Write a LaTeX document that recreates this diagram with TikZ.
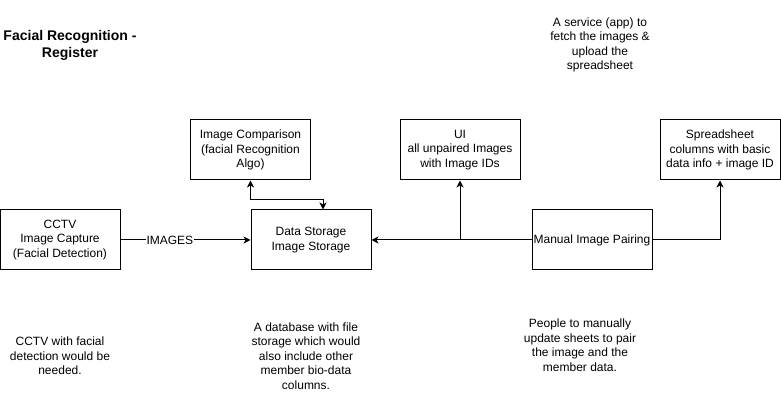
\documentclass[tikz,border=0pt]{standalone}
\usepackage{fontspec}
\setmainfont{Liberation Sans}
\usetikzlibrary{arrows.meta,positioning}

\begin{document}
\begin{tikzpicture}[
    x=1pt, y=1pt,
    every node/.style={font=\fontsize{12pt}{14.5pt}\selectfont},
    block/.style={rectangle, draw=black, line width=1pt, minimum width=120pt, minimum height=60pt, align=center, inner sep=0pt},
    note/.style={align=center, inner sep=0pt},
    arrow/.style={->, >={Stealth[length=7pt, width=7pt, inset=2pt]}, line width=1pt}
]
    \useasboundingbox (0,0) rectangle (781,401);

    % Title and notes
    \node[note, font=\bfseries\fontsize{14pt}{17pt}\selectfont] (title) at (70,356) {Facial Recognition -\\Register};
    \node[note] (servicenote) at (600,356) {A service (app) to\\fetch the images \&\\upload the\\spreadsheet};

    % Main row
    \node[block] (cctv) at (60,161) {CCTV\\Image Capture\\(Facial Detection)};
    \node[block, right=130pt of cctv] (store) {Data Storage\\Image Storage};
    \node[block, right=160pt of store] (pair) {Manual Image Pairing};

    % Top row
    \node[block] (compare) at (250.5,251) {Image Comparison\\(facial Recognition\\Algo)};
    \node[block] (ui) at (460,251) {UI\\all unpaired Images\\with Image IDs};
    \node[block] (sheet) at (720,251) {Spreadsheet\\columns with basic\\data info + image ID};

    % Notes below
    \node[note] (cctvnote) at (60,45) {CCTV with facial\\detection would be\\needed.};
    \node[note] (storenote) at (306,45) {A database with file\\storage which would\\also include other\\member bio-data\\columns.};
    \node[note] (pairnote) at (580,56) {People to manually\\update sheets to pair\\the image and the\\member data.};

    % Connectors
    \draw[arrow] (cctv) -- node[pos=0.38, fill=white, inner sep=1pt] {IMAGES} (store);
    \draw[arrow, <->] (compare.south) -- ++(0,-19) -| ([xshift=12pt]store.north);
    \draw[arrow] (pair) -- (store);
    \draw[arrow] (ui.south |- pair.west) -- (ui.south);
    \draw[arrow] (pair.east) -| (sheet.south);
\end{tikzpicture}
\end{document}
